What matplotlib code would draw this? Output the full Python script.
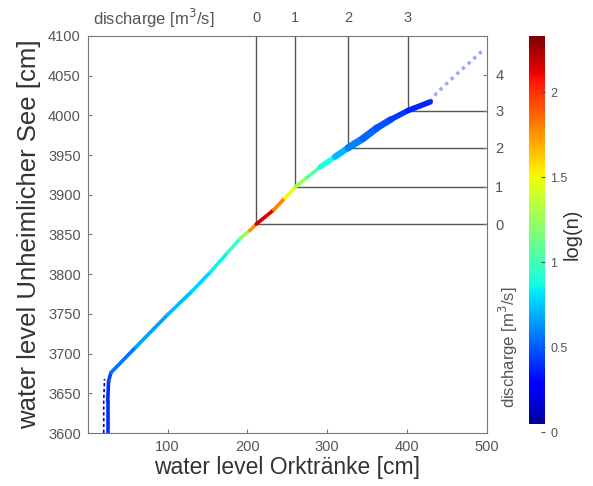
import matplotlib
matplotlib.use("Agg")
import matplotlib.pyplot as plt
import numpy as np
from matplotlib.collections import LineCollection
from matplotlib.colors import ListedColormap, Normalize

plt.rcParams['font.family'] = ['Liberation Sans', 'DejaVu Sans']

# ridge of the 2D histogram (water level Orktraenke vs Unheimlicher See), log10 counts
ork_cm = [25, 25, 26, 29, 60, 100, 130, 154, 175, 191, 203, 211, 222, 233, 247,
          260, 275, 291, 310, 326, 345, 362, 380, 401, 429]
unh_cm = [3600, 3640, 3665, 3676, 3708, 3749, 3778, 3803, 3827, 3845, 3855, 3863, 3872, 3881, 3896,
          3910, 3922, 3935, 3948, 3959, 3971, 3984, 3995, 4006, 4017]
log_n = [0.4, 0.4, 0.4, 0.5, 0.62, 0.7, 0.75, 0.8, 0.9, 1.05, 1.4, 2.1, 2.25, 2.0, 1.6,
         1.35, 1.15, 0.95, 0.8, 0.62, 0.55, 0.5, 0.45, 0.4, 0.35]

# second (sparse) strand at low water and sparse tail at high water
strand_ork = [20, 20, 21]
strand_unh = [3600, 3640, 3668]
tail_ork = [429, 437, 460, 480, 495]
tail_unh = [4017, 4028, 4050, 4068, 4082]

# discharge rating marks
discharge_vals = [0, 1, 2, 3]
discharge_ork = [211, 260, 326, 401]
discharge_unh = [3863, 3910, 3959, 4006]
right_vals = [0, 1, 2, 3, 4]
right_unh = [3863, 3910, 3959, 4006, 4051]

VMAX = 2.33

jet = plt.get_cmap('jet')(np.linspace(0, 1, 256))
jet[:5] = [1, 1, 1, 1]
cmap = ListedColormap(jet)
norm = Normalize(0, VMAX)

fig = plt.figure(figsize=(5.93, 4.86), dpi=100)
ax = fig.add_axes([0.148, 0.109, 0.673, 0.817])

# grid of discharge lines
for xo, yo in zip(discharge_ork, discharge_unh):
    ax.plot([xo, xo], [yo, 4100], color='#555555', lw=1.0, zorder=1)
    ax.plot([xo, 500], [yo, yo], color='#555555', lw=1.0, zorder=1)

# ridge as coloured band
pts = np.column_stack([ork_cm, unh_cm])
segs = np.stack([pts[:-1], pts[1:]], axis=1)
seg_val = (np.array(log_n[:-1]) + np.array(log_n[1:])) / 2
widths = [2.6] * 17 + [3.8, 4.6, 5.2, 5.2, 4.8, 4.0]
widths = widths[:len(segs)] + [4.0] * (len(segs) - len(widths))
lc = LineCollection(segs, cmap=cmap, norm=norm, linewidths=widths,
                    capstyle='round', zorder=3)
lc.set_array(seg_val)
ax.add_collection(lc)

ax.plot(strand_ork, strand_unh, color=cmap(norm(0.15)), lw=1.2, ls=(0, (2, 1.5)), zorder=2)
ax.plot(tail_ork, tail_unh, color=cmap(norm(0.4)), lw=2.5, ls=(0, (1, 1.2)), alpha=0.4, zorder=2)

ax.set_xlim(0, 500)
ax.set_ylim(3600, 4100)
ax.set_xticks([100, 200, 300, 400, 500])
ax.set_yticks(np.arange(3600, 4101, 50))
ax.tick_params(direction='in', length=3, colors='#777777', labelcolor='#555555',
               labelsize=10.5, pad=5)
for s in ax.spines.values():
    s.set_color('#777777')
    s.set_linewidth(0.8)
ax.set_xlabel('water level Orktränke [cm]', fontsize=16.5, color='#333333')
ax.set_ylabel('water level Unheimlicher See [cm]', fontsize=18.5, color='#333333')
ax.xaxis.set_label_coords(0.5, -0.058)
ax.yaxis.set_label_coords(-0.118, 0.5)

# top discharge axis
axt = ax.twiny()
axt.set_xlim(ax.get_xlim())
axt.set_xticks(discharge_ork)
axt.set_xticklabels([str(v) for v in discharge_vals])
axt.tick_params(length=0, labelcolor='#555555', labelsize=10.5, pad=8)
for s in axt.spines.values():
    s.set_visible(False)

# right discharge axis
axr = ax.twinx()
axr.set_ylim(ax.get_ylim())
axr.set_yticks(right_unh)
axr.set_yticklabels([str(v) for v in right_vals])
axr.tick_params(direction='in', length=3, colors='#777777', labelcolor='#555555',
                labelsize=10.5, pad=6)
for s in axr.spines.values():
    s.set_visible(False)

fig.text(0.157, 0.962, 'discharge [m$^3$/s]', fontsize=12, color='#555555',
         ha='left', va='center')
fig.text(0.857, 0.286, 'discharge [m$^3$/s]', fontsize=12, color='#555555',
         ha='center', va='center', rotation=90)

# colorbar
cax = fig.add_axes([0.892, 0.111, 0.027, 0.815])
sm = plt.cm.ScalarMappable(norm=norm, cmap=cmap)
cb = fig.colorbar(sm, cax=cax, ticks=[0, 0.5, 1, 1.5, 2])
cb.ax.set_yticklabels(['0', '0.5', '1', '1.5', '2'])
cb.ax.tick_params(direction='in', length=3, colors='#555555', labelsize=9, pad=4)
cb.outline.set_visible(False)
cb.set_label('log(n)', fontsize=14.5, color='#333333')
cb.ax.yaxis.set_label_coords(2.1, 0.5)

fig.savefig('out.png', dpi=100)
